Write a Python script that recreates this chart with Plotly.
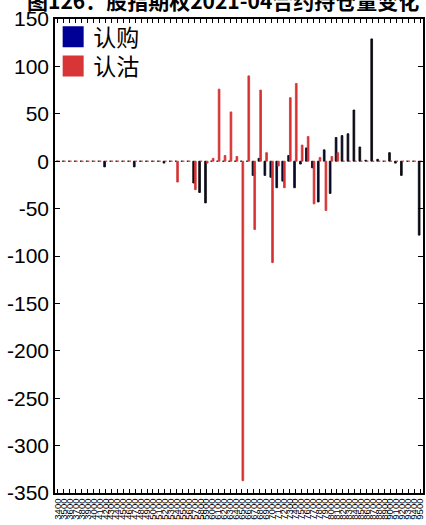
import plotly.graph_objects as go

strikes = [str(s) for s in range(3400, 9600, 100)]

call_idx_vals = {8: -6, 13: -6, 18: -2, 23: -23, 24: -33, 25: -44, 33: -15, 34: 3,
                 35: -15, 36: -17, 37: -28, 38: -21, 39: 6, 40: -28, 41: -3, 42: 14,
                 43: -7, 44: -43, 45: 12, 46: -34, 47: 25, 48: 27, 49: 29, 50: 54,
                 51: 15, 52: 1, 53: 129, 54: 2, 56: 9, 57: -2, 58: -15, 61: -78}
put_idx_vals = {20: -22, 23: -30, 25: -2, 26: 3, 27: 76, 28: 6, 29: 52, 30: 5,
                31: -337, 32: 90, 33: -72, 34: 75, 35: 9, 36: -107, 37: -5, 38: -28,
                39: 67, 40: 82, 41: 17, 42: 26, 43: -45, 44: 4, 45: -52, 46: 5, 47: 9}

calls = [call_idx_vals.get(i, 0) for i in range(len(strikes))]
puts = [put_idx_vals.get(i, 0) for i in range(len(strikes))]

y_ticks = list(range(-350, 151, 50))

CALL_BAR = "#0a0a3c"
PUT_BAR = "#d63232"
CALL_LEG = "#000096"
PUT_LEG = "#d83636"
FONT = "Liberation Sans, Arial, Noto Sans CJK SC, sans-serif"
CJK = "Noto Sans CJK SC, sans-serif"

fig = go.Figure()
fig.add_trace(go.Bar(x=strikes, y=calls, name="认购", showlegend=False,
                     marker=dict(color=CALL_BAR, line=dict(color="#000000", width=0.8))))
fig.add_trace(go.Bar(x=strikes, y=puts, name="认沽", showlegend=False,
                     marker=dict(color=PUT_BAR, line=dict(color=PUT_BAR, width=0.8))))
# legend entries
fig.add_trace(go.Scatter(x=[None], y=[None], mode="markers", name="认购", legend="legend",
                         marker=dict(symbol="square", size=16, color=CALL_LEG,
                                     line=dict(color=CALL_LEG, width=5))))
fig.add_trace(go.Scatter(x=[None], y=[None], mode="markers", name="认沽", legend="legend2",
                         marker=dict(symbol="square", size=16, color=PUT_LEG,
                                     line=dict(color=PUT_LEG, width=5))))

leg_common = dict(xanchor="left", yanchor="top", bgcolor="rgba(0,0,0,0)", borderwidth=0,
                  font=dict(size=23, family=CJK, color="black"), itemwidth=30)

fig.update_layout(
    template="none",
    width=426, height=525,
    margin=dict(l=55, r=3, t=19, b=32, autoexpand=False),
    paper_bgcolor="white", plot_bgcolor="white",
    barmode="group", bargap=0.42, bargroupgap=0,
    font=dict(family=FONT, color="black"),
    showlegend=True,
    legend=dict(x=-0.005, y=1.008, **leg_common),
    legend2=dict(x=-0.005, y=0.946, **leg_common),
    xaxis=dict(type="category", tickmode="linear", dtick=1, automargin=False,
               tickangle=-90, tickfont=dict(size=9.5, family=FONT),
               ticks="inside", ticklen=4, tickwidth=1, tickcolor="black",
               showline=True, linecolor="black", linewidth=1.5, mirror="ticks",
               showgrid=False, zeroline=False),
    yaxis=dict(range=[-350, 150], tickmode="array", tickvals=y_ticks, automargin=False,
               ticktext=[str(v) for v in y_ticks],
               tickfont=dict(size=21, family=FONT),
               ticks="inside", ticklen=5, tickwidth=1, tickcolor="black",
               showline=True, linecolor="black", linewidth=1.5, mirror="ticks",
               showgrid=False, zeroline=False),
)

fig.add_annotation(text="<b>图126：股指期权2021-04合约持仓量变化</b>",
                   xref="paper", yref="paper", x=-0.0815, y=1.04,
                   xanchor="left", yanchor="middle", showarrow=False,
                   font=dict(size=21, family=CJK, color="black"))

fig.write_html("out.html", config={"displayModeBar": False},
               post_script="document.body.style.margin='0px';")
